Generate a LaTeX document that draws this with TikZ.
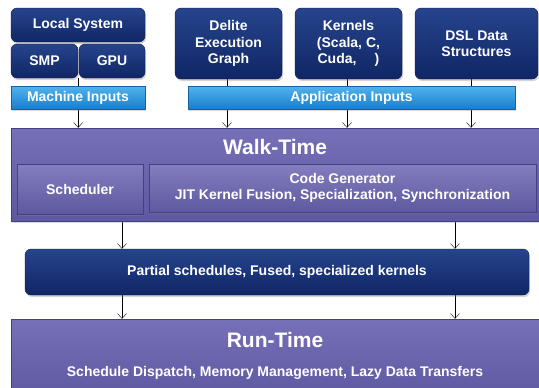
\documentclass[tikz,border=0pt]{standalone}
\usepackage{fontspec}
\setmainfont{Liberation Sans}
\usetikzlibrary{arrows.meta,shadows,backgrounds}
\definecolor{navytop}{RGB}{38,68,140}
\definecolor{navybot}{RGB}{16,38,102}
\definecolor{navyline}{RGB}{10,25,70}
\definecolor{bartop}{RGB}{80,180,238}
\definecolor{barbot}{RGB}{25,125,205}
\definecolor{purptop}{RGB}{118,112,184}
\definecolor{purpbot}{RGB}{94,88,160}
\definecolor{purpline}{RGB}{70,64,130}

\begin{document}
\begin{tikzpicture}[x=1pt,y=-1pt,
  lbl/.style={text=white, font=\bfseries\fontsize{14}{16.6}\selectfont, align=center, inner sep=0pt},
  navybox/.style={lbl, rounded corners=6pt, draw=navyline, top color=navytop, bottom color=navybot,
    drop shadow={opacity=0.35, shadow xshift=1pt, shadow yshift=-2pt}},
  inbar/.style={lbl, draw=barbot!80!black, top color=bartop, bottom color=barbot,
    drop shadow={opacity=0.3, shadow xshift=1pt, shadow yshift=-2pt}},
  phase/.style={draw=purpline, top color=purptop, bottom color=purpbot, inner sep=0pt,
    drop shadow={opacity=0.3, shadow xshift=1pt, shadow yshift=-2pt}},
  part/.style={lbl, draw=purpline, top color=purptop!90!white, bottom color=purpbot, 
    drop shadow={opacity=0.35, shadow xshift=1pt, shadow yshift=-2pt}},
  title/.style={text=white, font=\bfseries\fontsize{21}{25}\selectfont, inner sep=0pt},
  flow/.style={-{Straight Barb[length=5pt,width=9pt]}, thin, black}]
\useasboundingbox (0,0) rectangle (539,388);

% inputs
\node[navybox, minimum width=134pt, minimum height=34pt] (localsys) at (78,25) {Local System};
\node[navybox, minimum width=67pt, minimum height=34pt] (smp) at (44.5,61) {SMP};
\node[navybox, minimum width=66pt, minimum height=34pt] (gpu) at (112,61) {GPU};
\node[navybox, minimum width=107pt, minimum height=71pt] (delite) at (228.5,43.5) {Delite\\Execution\\Graph};
\node[navybox, minimum width=107pt, minimum height=71pt] (kernels) at (348.5,43.5) {Kernels\\(Scala, C,\\Cuda,\hspace{1.3em})};
\node[navybox, minimum width=123pt, minimum height=71pt] (dsl) at (476.5,43.5) {DSL Data\\Structures};
\node[inbar, minimum width=134pt, minimum height=23pt] (machin) at (78,97.5) {Machine Inputs};
\node[inbar, minimum width=327pt, minimum height=23pt] (appin) at (351.5,97.5) {Application Inputs};

% walk-time
\node[phase, minimum width=534pt, minimum height=93pt] (walk) at (278,174.5) {};
\node[title] (walktitle) at (275,147) {Walk-Time};
\node[part, minimum width=126pt, minimum height=50pt] (sched) at (80,189) {Scheduler};
\node[part, minimum width=387pt, minimum height=48pt] (codegen) at (342.5,188) {Code Generator\\JIT Kernel Fusion, Specialization, Synchronization};

\node[navybox, minimum width=504pt, minimum height=46pt] (partial) at (277,272) {Partial schedules, Fused, specialized kernels};

% run-time
\node[phase, minimum width=534pt, minimum height=80pt] (run) at (278,359) {};
\node[title] (runtitle) at (275,340) {Run-Time};
\node[lbl] (runsub) at (275,373) {Schedule Dispatch, Memory Management, Lazy Data Transfers};

\begin{scope}[on background layer]
\draw[flow] (smp.south east) -- (smp.south east |- walk.north);
\draw[flow] ([xshift=-1.5pt]delite.south) -- ([xshift=-1.5pt]delite.south |- walk.north);
\draw[flow] ([xshift=-1.5pt]kernels.south) -- ([xshift=-1.5pt]kernels.south |- walk.north);
\draw[flow] ([xshift=-5.5pt]dsl.south) -- ([xshift=-5.5pt]dsl.south |- walk.north);
\draw[flow] (122,0 |- walk.south) -- (122,0 |- partial.north);
\draw[flow] (455,0 |- walk.south) -- (455,0 |- partial.north);
\draw[flow] (122,0 |- partial.south) -- (122,0 |- run.north);
\draw[flow] (455,0 |- partial.south) -- (455,0 |- run.north);
\end{scope}
\end{tikzpicture}
\end{document}
